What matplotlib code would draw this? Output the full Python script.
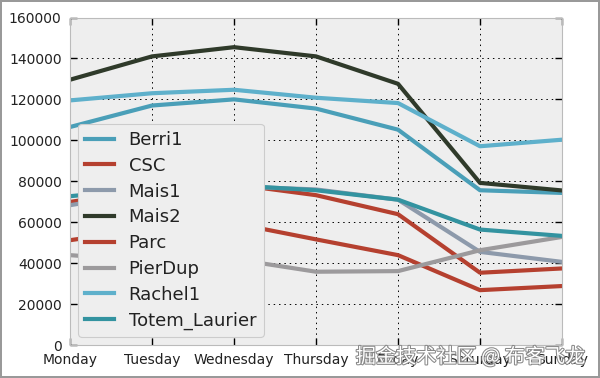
import numpy as np
import matplotlib
matplotlib.use("Agg")
import matplotlib.pyplot as plt
import matplotlib.patheffects as pe

days = ['Monday', 'Tuesday', 'Wednesday', 'Thursday', 'Friday', 'Saturday', 'Sunday']

# bike counts per weekday
Berri1 = [106500, 117000, 120000, 115500, 105200, 75600, 74300]
CSC = [69900, 76000, 78500, 73200, 63900, 35300, 37400]
Mais1 = [68300, 75000, 77500, 76000, 71000, 45500, 40600]
Mais2 = [129600, 141000, 145500, 141000, 127600, 79200, 75500]
Parc = [51200, 57000, 59500, 51600, 43900, 26800, 28800]
PierDup = [43900, 41000, 42000, 35800, 36100, 46300, 52800]
Rachel1 = [119500, 123000, 124700, 120800, 118200, 97100, 100300]
Totem_Laurier = [72700, 76500, 78000, 75600, 71000, 56400, 53300]

names = ['Berri1', 'CSC', 'Mais1', 'Mais2', 'Parc', 'PierDup', 'Rachel1', 'Totem_Laurier']
series = [Berri1, CSC, Mais1, Mais2, Parc, PierDup, Rachel1, Totem_Laurier]
colors = ['#4A9FB8', '#B5402F', '#8D9AAB', '#2F3A2A', '#B5402F', '#9C9A9C', '#5EB0CB', '#3393A0']

fig = plt.figure(figsize=(6, 3.78), dpi=100)
fig.patch.set_facecolor('white')
fig.patch.set_edgecolor('#999999')
fig.patch.set_linewidth(1.5)
ax = fig.add_axes([0.1167, 0.0873, 0.82, 0.8664])
ax.set_facecolor('#EEEEEE')

x = np.arange(len(days))
for name, vals, c in zip(names, series, colors):
    ax.plot(x, vals, color=c, lw=3, label=name)

ax.set_xlim(0, 6)
ax.set_ylim(0, 160000)
ax.set_xticks(x)
ax.set_xticklabels(days)
ax.set_yticks(np.arange(0, 160001, 20000))
ax.tick_params(direction='in', top=True, right=True, length=5, width=1,
               labelsize=10, labelcolor='#222222', pad=6)
ax.grid(True, color='black', linestyle=(0, (1.5, 4)), lw=0.7)
for s in ax.spines.values():
    s.set_color('#BBBBBB')

leg = ax.legend(loc='lower left', fontsize=13, handlelength=1.6,
                fancybox=True, framealpha=1.0, facecolor='#EEEEEE',
                edgecolor='#CCCCCC', labelspacing=0.43, borderaxespad=0.45)
leg.get_frame().set_linewidth(0.8)
for t in leg.get_texts():
    t.set_color('#222222')

fig.text(0.593, 0.055, '掘金技术社区 @ 布客飞龙', fontsize=14.5, color='white',
         family=['Noto Sans CJK SC', 'DejaVu Sans'], va='center', ha='left',
         path_effects=[pe.withStroke(linewidth=1.5, foreground='#888888')])

fig.savefig('out.png', dpi=100, facecolor=fig.get_facecolor(), edgecolor=fig.get_edgecolor())
